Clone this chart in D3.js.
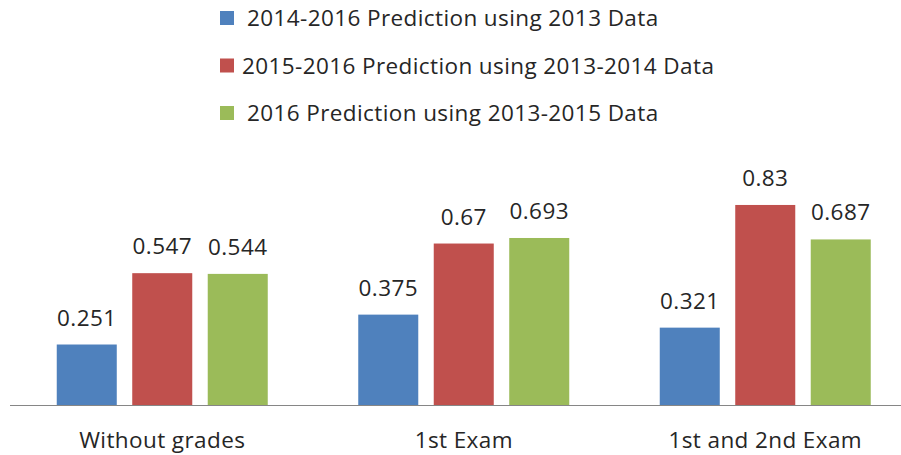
<!DOCTYPE html>
<html><head><meta charset="utf-8">
<script src="https://cdn.jsdelivr.net/npm/d3@7"></script>
<style>body{margin:0;background:#fff}svg{display:block}text{font-family:"Open Sans",sans-serif;fill:#262626;letter-spacing:0.4px}</style>
</head><body><svg id="c" width="901" height="455"></svg>
<script>
const categories = ["Without grades", "1st Exam", "1st and 2nd Exam"];
const seriesNames = ["2014-2016 Prediction using 2013 Data", "2015-2016 Prediction using 2013-2014 Data", "2016 Prediction using 2013-2015 Data"];
const blueValues = [0.251, 0.375, 0.321];
const redValues = [0.547, 0.67, 0.83];
const greenValues = [0.544, 0.693, 0.687];
const valueLabels = [["0.251","0.375","0.321"],["0.547","0.67","0.83"],["0.544","0.693","0.687"]];
const colors = ["#4F81BD", "#C0504D", "#9BBB59"];
const series = [blueValues, redValues, greenValues];

const FS = 22.5;
const svg = d3.select("#c");
const baseY = 405;
const x0 = d3.scaleBand().domain(categories).range([11.5, 916]).paddingInner(0).paddingOuter(0);
const x1 = d3.scaleBand().domain([0,1,2]).range([-105.5, 105.5]).paddingInner(0.205).paddingOuter(0);
const y = d3.scaleLinear().domain([0, 1]).range([baseY, baseY - 241]);

categories.forEach((c, ci) => {
  const cx = x0(c) + x0.bandwidth()/2;
  series.forEach((s, si) => {
    const bx = cx + x1(si);
    svg.append("rect").attr("x", bx).attr("y", y(s[ci])).attr("width", x1.bandwidth())
      .attr("height", y(0) - y(s[ci])).attr("fill", colors[si]);
    svg.append("text").attr("x", bx + x1.bandwidth()/2).attr("y", y(s[ci]) - 19)
      .attr("text-anchor", "middle").attr("font-size", FS).text(valueLabels[si][ci]);
  });
});

svg.append("line").attr("x1", 10).attr("x2", 901).attr("y1", baseY + 0.5).attr("y2", baseY + 0.5)
  .attr("stroke", "#868686").attr("stroke-width", 1);

const xAxis = d3.axisBottom(x0).tickSize(0).tickPadding(0);
const ga = svg.append("g").attr("transform", `translate(0,${baseY})`).call(xAxis);
ga.select(".domain").remove();
ga.selectAll("text").attr("font-size", FS).attr("dy", null).attr("y", 43).style("font-family", "'Open Sans', sans-serif").attr("fill", "#262626");

const leg = svg.append("g");
seriesNames.forEach((n, i) => {
  const lb = 26 + i * 47.5;
  leg.append("rect").attr("x", 220).attr("y", lb - 15).attr("width", 14).attr("height", 14).attr("fill", colors[i]);
  leg.append("text").attr("x", i === 1 ? 242 : 247).attr("y", lb).attr("font-size", FS).text(n);
});
</script></body></html>
